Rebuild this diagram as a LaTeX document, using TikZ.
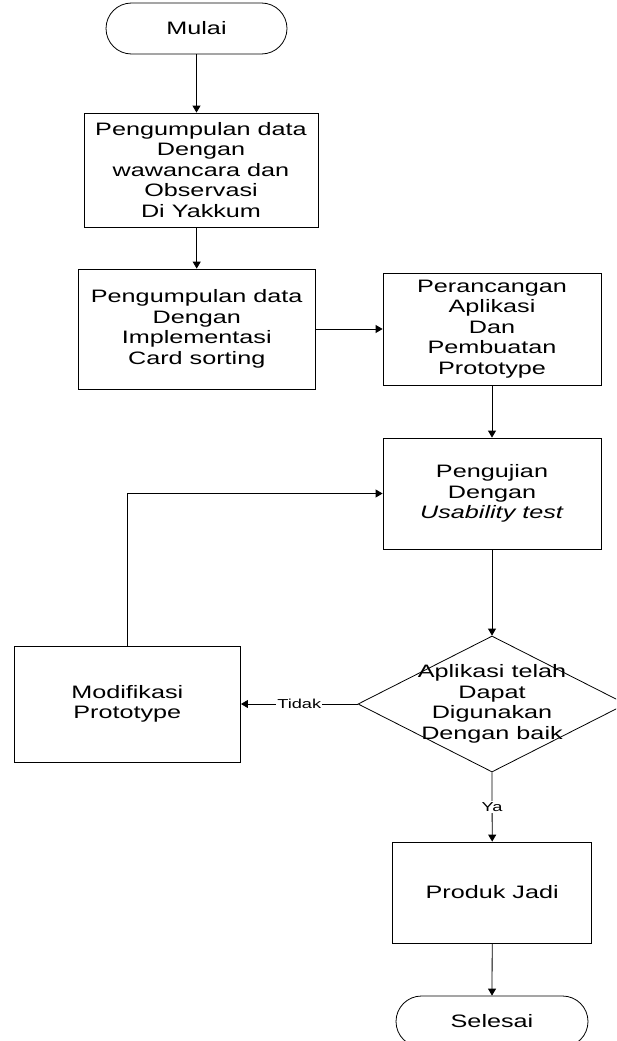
\documentclass[tikz,border=0pt]{standalone}
\usepackage{fontspec}
\setmainfont{Liberation Sans}[FakeStretch=1.4]
\usetikzlibrary{arrows.meta,shapes.geometric}
\begin{document}
\begin{tikzpicture}[x=1pt,y=-1pt,
  box/.style={draw, line width=0.8pt, rectangle, inner sep=0pt, align=center,
    font=\fontsize{18}{20.5}\selectfont},
  term/.style={draw, line width=0.8pt, rectangle, rounded corners=25.5pt,
    minimum height=51pt, inner sep=0pt, font=\fontsize{18}{20.5}\selectfont},
  dia/.style={draw, line width=0.8pt, diamond, minimum width=268pt,
    minimum height=136pt, inner sep=0pt},
  txt/.style={inner sep=0pt, align=center, font=\fontsize{18}{20.5}\selectfont},
  lbl/.style={fill=white, inner sep=1pt, font=\fontsize{13}{15}\selectfont},
  arr/.style={line width=0.8pt, -{Triangle[length=7pt,width=8pt]}}]
\clip (0,0) rectangle (616,1041);
\useasboundingbox (0,0) rectangle (616,1041);
\node[term, minimum width=181pt] (start) at (196.5,28.5) {Mulai};
\node[box, minimum width=234pt, minimum height=114pt] (b1) at (201,170)
  {Pengumpulan data\\Dengan\\wawancara dan\\Observasi\\Di Yakkum};
\node[box, minimum width=236.7pt, minimum height=120pt] (b2) at (196.7,329)
  {Pengumpulan data\\Dengan\\Implementasi\\Card sorting};
\node[box, minimum width=218pt, minimum height=112pt] (b3) at (492,329)
  {Perancangan\\Aplikasi\\Dan\\Pembuatan\\Prototype};
\node[box, minimum width=218pt, minimum height=111pt] (b4) at (492,493.5)
  {Pengujian\\Dengan\\\textit{Usability test}};
\node[dia] (dec) at (492,704) {};
\node[txt] (dect) at (dec.center) {Aplikasi telah\\Dapat\\Digunakan\\Dengan baik};
\node[box, minimum width=226.5pt, minimum height=116pt] (mod) at (127.3,704)
  {Modifikasi\\Prototype};
\node[box, minimum width=199pt, minimum height=101pt] (prod) at (492.2,892.5)
  {Produk Jadi};
\node[term, minimum width=192pt] (end) at (492,1021.5) {Selesai};
\draw[arr] (start.south) -- (start.south |- b1.north);
\draw[arr] (b2.north |- b1.south) -- (b2.north);
\draw[arr] (b2.east) -- (b3.west);
\draw[arr] (b3.south) -- (b4.north);
\draw[arr] (b4.south) -- (dec.north);
\draw[arr] (dec.west) -- node[lbl] (tidak) {Tidak} (mod.east);
\draw[arr] (dec.south) -- node[lbl] (ya) {Ya} (prod.north);
\draw[arr] (prod.south) -- (end.north);
\draw[arr] (mod.north) |- (b4.west);
\end{tikzpicture}
\end{document}
